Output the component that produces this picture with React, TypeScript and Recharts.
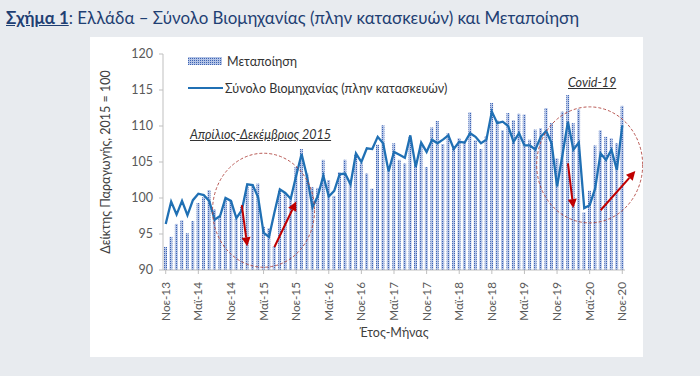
import React from "react"
import { Bar, ComposedChart, Legend, Line, ReferenceDot, ReferenceLine, XAxis, YAxis } from "recharts"

const monthNames = ["Ιαν", "Φεβ", "Μαρ", "Απρ", "Μαϊ", "Ιουν", "Ιουλ", "Αυγ", "Σεπ", "Οκτ", "Νοε", "Δεκ"]

// Νοε-13 ... Νοε-20
const manufacturing = [
  93.2, 94.6, 96.4, 96.9, 95.1, 96.8, 99.3, 100.1, 101.1, 98.4, 97.4, 99.8,
  99.6, 97.1, 98.8, 101.6, 101.9, 102.0, 96.0, 95.8, 93.3, 101.0, 100.7, 100.1,
  104.3, 106.8, 103.4, 101.5, 101.4, 105.3, 102.5, 100.3, 103.6, 105.3, 102.1, 106.0,
  104.8, 103.4, 101.3, 107.4, 110.1, 103.8, 107.6, 105.3, 104.8, 108.5, 104.6, 107.4,
  104.3, 109.8, 110.7, 107.5, 109.0, 107.2, 108.3, 107.9, 111.9, 108.0, 106.8, 108.6,
  113.2, 110.8, 109.4, 111.8, 110.8, 111.7, 111.6, 108.1, 109.5, 109.7, 112.5, 110.4,
  105.5, 112.0, 114.3, 110.4, 112.3, 98.0, 101.0, 107.3, 109.4, 108.5, 108.3, 107.6,
  112.8,
]

const industryTotal = [
  96.4, 99.5, 97.7, 99.6, 97.6, 99.7, 100.6, 100.4, 99.6, 97.0, 97.5, 100.0,
  99.6, 97.2, 98.3, 101.9, 101.8, 100.1, 95.2, 94.6, 98.0, 101.2, 100.7, 99.9,
  103.1, 106.1, 103.0, 98.7, 100.3, 103.1, 100.2, 101.0, 103.3, 103.4, 101.9, 106.2,
  105.0, 106.9, 106.8, 108.5, 107.6, 103.7, 106.4, 106.0, 105.6, 108.7, 104.3, 107.7,
  106.4, 108.1, 107.6, 108.1, 108.7, 106.8, 107.8, 107.7, 109.0, 108.5, 107.6, 108.1,
  112.0, 110.4, 110.6, 110.0, 107.8, 109.0, 107.3, 107.3, 106.7, 108.5, 109.3, 107.6,
  101.6, 106.0, 110.6, 106.7, 107.7, 98.6, 99.0, 101.3, 106.2, 105.3, 106.7, 103.9,
  110.1,
]

const labels = manufacturing.map((_, i) => {
  const m = (10 + i) % 12
  const y = 13 + Math.floor((10 + i) / 12)
  return `${monthNames[m]}-${y}`
})

const yTicks = [90, 95, 100, 105, 110, 115, 120]

const data = labels.map((label, i) => ({
  label,
  manuf: manufacturing[i],
  total: industryTotal[i],
}))

const FONT = "Lato, 'Noto Sans', sans-serif"
const RED = "#c00000"

function Arrow(props: any) {
  const { x1, y1, x2, y2, ext = 1 } = props
  const tx = x1 + (x2 - x1) * ext
  const ty = y1 + (y2 - y1) * ext
  const len = Math.hypot(tx - x1, ty - y1)
  const ux = (tx - x1) / len
  const uy = (ty - y1) / len
  const head = 9
  const half = 4.5
  const bx = tx - ux * head
  const by = ty - uy * head
  return (
    <g>
      <line x1={x1} y1={y1} x2={bx} y2={by} stroke={RED} strokeWidth={2} />
      <polygon
        points={`${tx},${ty} ${bx - uy * half},${by + ux * half} ${bx + uy * half},${by - ux * half}`}
        fill={RED}
      />
    </g>
  )
}

function Ellipse(rx: number, ry: number) {
  return (props: any) => (
    <ellipse
      cx={props.cx}
      cy={props.cy}
      rx={rx}
      ry={ry}
      fill="none"
      stroke="#b0453f"
      strokeWidth={0.9}
      strokeDasharray="3 2"
    />
  )
}

function XTick({ x, y, payload }: any) {
  return (
    <g transform={`translate(${x},${y})`}>
      <text
        x={-6}
        y={0}
        dy={4}
        transform="rotate(-90)"
        textAnchor="end"
        fontSize={11.8}
        fill="#595959"
        fontFamily={FONT}
      >
        {payload.value}
      </text>
    </g>
  )
}

function LegendBox() {
  return (
    <div style={{ fontFamily: FONT, fontSize: 12.5, color: "#333" }}>
      <div style={{ display: "flex", alignItems: "center", height: 16 }}>
        <svg width={36} height={10}>
          <rect x={0} y={1} width={34} height={8} fill="url(#dotPat)" />
        </svg>
        <span style={{ marginLeft: 3 }}>Μεταποίηση</span>
      </div>
      <div style={{ display: "flex", alignItems: "center", height: 16, marginTop: 11 }}>
        <svg width={36} height={10}>
          <line x1={0} y1={5} x2={35} y2={5} stroke="#2070b4" strokeWidth={2.2} />
        </svg>
        <span style={{ marginLeft: 1 }}>Σύνολο Βιομηχανίας (πλην κατασκευών)</span>
      </div>
    </div>
  )
}

export default function App() {
  return (
    <div
      style={{
        position: "fixed",
        left: 0,
        top: 0,
        width: 700,
        height: 376,
        background: "#e8ebef",
        fontFamily: FONT,
        overflow: "hidden",
      }}
    >
      <svg width={0} height={0} style={{ position: "absolute" }}>
        <defs>
          <pattern id="dotPat" patternUnits="userSpaceOnUse" width={2} height={2}>
            <rect width={2} height={2} fill="#b4c4e6" />
            <rect width={1} height={1} fill="#3d63b3" />
          </pattern>
        </defs>
      </svg>

      <div style={{ position: "absolute", left: 6, top: 7, fontSize: 16.9, color: "#1f3f73", whiteSpace: "nowrap" }}>
        <span style={{ fontWeight: 700, textDecoration: "underline" }}>Σχήμα 1</span>
        <span>: Ελλάδα – Σύνολο Βιομηχανίας (πλην κατασκευών) και Μεταποίηση</span>
      </div>

      <div style={{ position: "absolute", left: 90, top: 37, width: 553, height: 320, background: "#fff" }}>
        <ComposedChart
          width={553}
          height={320}
          data={data}
          margin={{ top: 17, right: 18, left: 0, bottom: 0 }}
          barCategoryGap={1}
        >
          <XAxis
            dataKey="label"
            interval={5}
            height={87}
            tick={<XTick />}
            tickSize={4}
            axisLine={{ stroke: "#bfbfbf" }}
            tickLine={{ stroke: "#bfbfbf" }}
            label={{
              value: "Έτος-Μήνας",
              position: "insideBottom",
              offset: 20,
              style: { fontSize: 12.5, fill: "#404040", fontFamily: FONT },
            }}
          />
          <YAxis
            width={73}
            domain={[90, 120]}
            ticks={yTicks}
            tickSize={4}
            tickMargin={6}
            axisLine={{ stroke: "#bfbfbf" }}
            tickLine={{ stroke: "#bfbfbf" }}
            tick={{ fontSize: 12.5, fill: "#595959", fontFamily: FONT }}
            label={{
              value: "Δείκτης Παραγωγής, 2015 = 100",
              angle: -90,
              position: "insideLeft",
              offset: 16,
              style: { fontSize: 12.5, fill: "#404040", fontFamily: FONT, textAnchor: "middle" },
            }}
          />
          <Legend
            layout="vertical"
            align="center"
            verticalAlign="middle"
            wrapperStyle={{ left: 98, top: 16, width: "auto" }}
            content={() => <LegendBox />}
          />
          <Bar dataKey="manuf" name="Μεταποίηση" barSize={3} fill="url(#dotPat)" isAnimationActive={false} />
          <Line
            dataKey="total"
            name="Σύνολο Βιομηχανίας (πλην κατασκευών)"
            stroke="#2070b4"
            strokeWidth={2.3}
            dot={false}
            isAnimationActive={false}
          />
          <ReferenceDot x={labels[18]} y={98.3} ifOverflow="visible" shape={Ellipse(51, 57)} />
          <ReferenceDot x={labels[78]} y={104.6} ifOverflow="visible" shape={Ellipse(53, 58)} />
          <ReferenceLine
            segment={[{ x: labels[14], y: 99.0 }, { x: labels[15], y: 93.3 }]}
            ifOverflow="visible"
            shape={(p: any) => <Arrow {...p} />}
          />
          <ReferenceLine
            segment={[{ x: labels[20], y: 93.2 }, { x: labels[24], y: 99.5 }]}
            ifOverflow="visible"
            shape={(p: any) => <Arrow {...p} />}
          />
          <ReferenceLine
            segment={[{ x: labels[74], y: 104.8 }, { x: labels[75], y: 98.6 }]}
            ifOverflow="visible"
            shape={(p: any) => <Arrow {...p} />}
          />
          <ReferenceLine
            segment={[{ x: labels[80], y: 98.3 }, { x: labels[84], y: 101.7 }]}
            ifOverflow="visible"
            shape={(p: any) => <Arrow {...p} ext={1.6} />}
          />
        </ComposedChart>

        <div
          style={{
            position: "absolute",
            left: 100,
            top: 90,
            fontSize: 12.5,
            fontStyle: "italic",
            textDecoration: "underline",
            color: "#333",
            whiteSpace: "nowrap",
          }}
        >
          Απρίλιος-Δεκέμβριος 2015
        </div>
        <div
          style={{
            position: "absolute",
            left: 478,
            top: 38,
            fontSize: 12.5,
            fontStyle: "italic",
            textDecoration: "underline",
            color: "#333",
            whiteSpace: "nowrap",
          }}
        >
          Covid-19
        </div>
      </div>
    </div>
  )
}
